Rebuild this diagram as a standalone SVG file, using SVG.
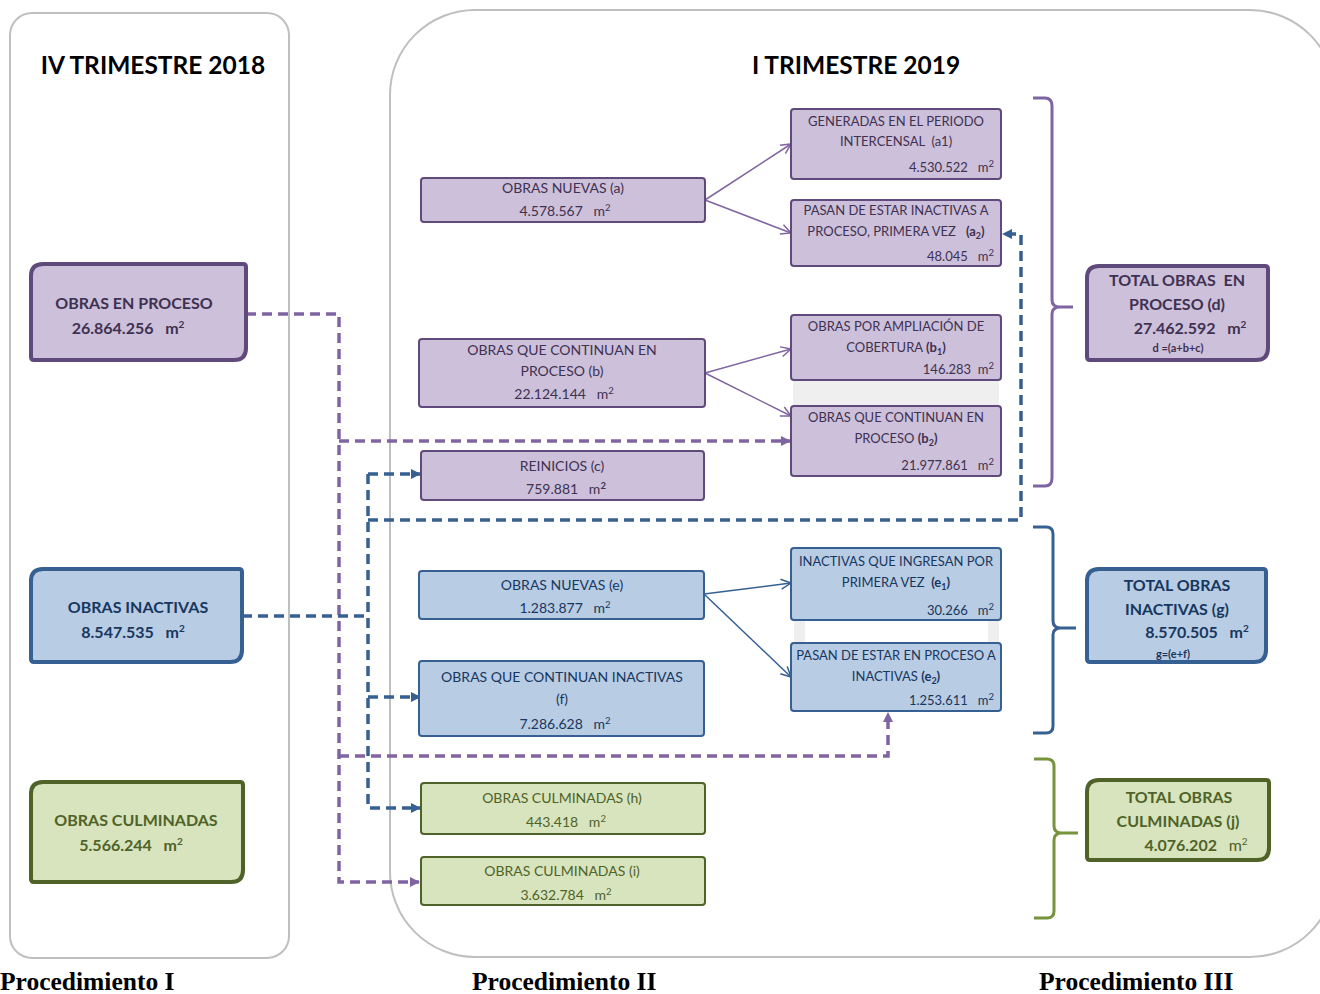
<svg xmlns="http://www.w3.org/2000/svg" width="1320" height="994" viewBox="0 0 1320 994">
<defs>
<style>
text{font-family:Lato,"Open Sans","Liberation Sans",sans-serif}
.ttl{font-size:24.5px;font-weight:bold;fill:#000}
.proc{font-family:"Liberation Serif","DejaVu Serif",serif;font-size:25.5px;font-weight:bold;fill:#000}
.big{font-size:16px;font-weight:bold}
.sm{font-size:13px}
.md{font-size:14px}
.tiny{font-size:11px;font-weight:bold}
.pu{fill:#3f3151}.bl{fill:#17375e}.gr{fill:#4f6228}
.pbox{fill:#ccc0da;stroke:#604a7b;stroke-width:2}
.bbox{fill:#b8cce4;stroke:#366092;stroke-width:2}
.gbox{fill:#d7e4bd;stroke:#4f6228;stroke-width:2}
.pbig{fill:#ccc0da;stroke:#604a7b;stroke-width:4}
.bbig{fill:#b8cce4;stroke:#366092;stroke-width:4}
.gbig{fill:#d7e4bd;stroke:#4f6228;stroke-width:4}
.panel{fill:none;stroke:#bfbfbf;stroke-width:2}
.sp{fill:none;stroke:#8064a2;stroke-width:1.5}
.sb{fill:none;stroke:#366092;stroke-width:1.5}
.dp{fill:none;stroke:#8064a2;stroke-width:3.5;stroke-dasharray:10,6}
.db{fill:none;stroke:#366092;stroke-width:3.5;stroke-dasharray:10,6}
.brace{fill:none;stroke-width:3}
</style>
<marker id="op" viewBox="0 0 12 12" refX="11" refY="6" markerWidth="12" markerHeight="12" markerUnits="userSpaceOnUse" orient="auto"><path d="M1,1 L11,6 L1,11" fill="none" stroke="#8064a2" stroke-width="1.5"/></marker>
<marker id="ob" viewBox="0 0 12 12" refX="11" refY="6" markerWidth="12" markerHeight="12" markerUnits="userSpaceOnUse" orient="auto"><path d="M1,1 L11,6 L1,11" fill="none" stroke="#366092" stroke-width="1.5"/></marker>
<marker id="fp" viewBox="0 0 10 10" refX="9" refY="5" markerWidth="10" markerHeight="10" markerUnits="userSpaceOnUse" orient="auto"><path d="M0,0 L10,5 L0,10 Z" fill="#8064a2"/></marker>
<marker id="fb" viewBox="0 0 10 10" refX="9" refY="5" markerWidth="10" markerHeight="10" markerUnits="userSpaceOnUse" orient="auto"><path d="M0,0 L10,5 L0,10 Z" fill="#366092"/></marker>
</defs>
<rect width="1320" height="994" fill="#fff"/>

<g id="panels">
<rect class="panel" x="10" y="13" width="279" height="945" rx="22"/>
<rect class="panel" x="390" y="10" width="945" height="947" rx="85"/>
<text class="ttl" x="153" y="74" text-anchor="middle">IV TRIMESTRE 2018</text>
<text class="ttl" x="856" y="74" text-anchor="middle">I TRIMESTRE 2019</text>
<text class="proc" x="0" y="990">Procedimiento I</text>
<text class="proc" x="472" y="990">Procedimiento II</text>
<text class="proc" x="1039" y="990">Procedimiento III</text>
</g>

<g id="fillers">
<rect x="793" y="380" width="206" height="26" fill="#efefef"/>
<rect x="794" y="620" width="11" height="23" fill="#efefef"/>
<rect x="988" y="620" width="11" height="23" fill="#efefef"/>
</g>

<g id="connectors">
<path class="sp" d="M705,200 L791,144" marker-end="url(#op)"/>
<path class="sp" d="M705,200 L791,233" marker-end="url(#op)"/>
<path class="sp" d="M705,373 L791,349" marker-end="url(#op)"/>
<path class="sp" d="M705,373 L791,416" marker-end="url(#op)"/>
<path class="sb" d="M704,594 L791,583" marker-end="url(#ob)"/>
<path class="sb" d="M704,594 L791,677" marker-end="url(#ob)"/>
<path class="dp" d="M246,314 H339 V882 H419" marker-end="url(#fp)"/>
<path class="dp" d="M339,441 H790" marker-end="url(#fp)"/>
<path class="dp" d="M339,756 H888 V713" marker-end="url(#fp)"/>
<path class="db" d="M242,616 H368"/>
<path class="db" d="M368,474 V808 H420" marker-end="url(#fb)"/>
<path class="db" d="M368,474 H420" marker-end="url(#fb)"/>
<path class="db" d="M368,697 H420" marker-end="url(#fb)"/>
<path class="db" d="M368,520 H1021 V234 H1003" marker-end="url(#fb)"/>
</g>

<g id="braces">
<path class="brace" stroke="#8064a2" d="M1033,98 H1045 Q1052,98 1052,106 V300 Q1052,307 1060,307 H1073 M1060,307 Q1052,307 1052,314 V478 Q1052,486 1045,486 H1033"/>
<path class="brace" stroke="#366092" d="M1033,527 H1046 Q1053,527 1053,534 V621 Q1053,628 1061,628 H1076 M1061,628 Q1053,628 1053,635 V726 Q1053,733 1046,733 H1033"/>
<path class="brace" stroke="#77933c" d="M1034,759 H1047 Q1054,759 1054,766 V826 Q1054,833 1062,833 H1078 M1062,833 Q1054,833 1054,840 V911 Q1054,918 1047,918 H1034"/>
</g>

<g id="n-proceso">
<path class="pbig" d="M43,264 H243 Q246,264 246,267 V348 Q246,360 234,360 H34 Q31,360 31,357 V276 Q31,264 43,264 Z"/>
<text class="big pu" x="134" y="309" text-anchor="middle">OBRAS EN PROCESO</text>
<text class="big pu" x="128" y="334" text-anchor="middle">26.864.256&#160;&#160; m<tspan dy="-6" font-size="10">2</tspan></text>
</g>
<g id="n-inactivas">
<path class="bbig" d="M43,569 H239 Q242,569 242,572 V650 Q242,662 230,662 H34 Q31,662 31,659 V581 Q31,569 43,569 Z"/>
<text class="big bl" x="138" y="613" text-anchor="middle">OBRAS INACTIVAS</text>
<text class="big bl" x="133" y="638" text-anchor="middle">8.547.535&#160;&#160; m<tspan dy="-6" font-size="10">2</tspan></text>
</g>
<g id="n-culminadas">
<path class="gbig" d="M43,782 H240 Q243,782 243,785 V870 Q243,882 231,882 H34 Q31,882 31,879 V794 Q31,782 43,782 Z"/>
<text class="big gr" x="136" y="826" text-anchor="middle">OBRAS CULMINADAS</text>
<text class="big gr" x="131" y="851" text-anchor="middle">5.566.244&#160;&#160; m<tspan dy="-6" font-size="10">2</tspan></text>
</g>

<g id="n-a">
<rect class="pbox" x="421" y="178" width="284" height="44" rx="3"/>
<text class="md pu" x="563" y="193" text-anchor="middle">OBRAS NUEVAS (a)</text>
<text class="md pu" x="565" y="216" text-anchor="middle">4.578.567&#160;&#160; m<tspan dy="-5" font-size="9.5">2</tspan></text>
</g>
<g id="n-a1">
<rect class="pbox" x="791" y="109" width="210" height="70" rx="3"/>
<text class="sm pu" x="896" y="126" text-anchor="middle">GENERADAS EN EL PERIODO</text>
<text class="sm pu" x="896" y="146" text-anchor="middle">INTERCENSAL&#160; (a1)</text>
<text class="sm pu" x="994" y="172" text-anchor="end" font-size="14">4.530.522&#160;&#160; m<tspan dy="-5" font-size="9.5">2</tspan></text>
</g>
<g id="n-a2">
<rect class="pbox" x="791" y="200" width="210" height="66" rx="3"/>
<text class="sm pu" x="896" y="215" text-anchor="middle" font-size="12.5">PASAN DE ESTAR INACTIVAS A</text>
<text class="sm pu" x="896" y="236" text-anchor="middle" font-size="12.5">PROCESO, PRIMERA VEZ&#160;&#160; <tspan font-weight="bold">(a<tspan dy="3" font-size="9">2</tspan><tspan dy="-3">)</tspan></tspan></text>
<text class="sm pu" x="994" y="261" text-anchor="end" font-size="14">48.045&#160;&#160; m<tspan dy="-5" font-size="9.5">2</tspan></text>
</g>
<g id="n-b">
<rect class="pbox" x="419" y="339" width="286" height="68" rx="3"/>
<text class="md pu" x="562" y="355" text-anchor="middle">OBRAS QUE CONTINUAN EN</text>
<text class="md pu" x="562" y="376" text-anchor="middle">PROCESO (b)</text>
<text class="md pu" x="564" y="399" text-anchor="middle">22.124.144&#160;&#160; m<tspan dy="-5" font-size="9.5">2</tspan></text>
</g>
<g id="n-b1">
<rect class="pbox" x="791" y="315" width="210" height="65" rx="3"/>
<text class="sm pu" x="896" y="331" text-anchor="middle" font-size="12.5">OBRAS POR AMPLIACIÓN DE</text>
<text class="sm pu" x="896" y="352" text-anchor="middle" font-size="12.5">COBERTURA <tspan font-weight="bold">(b<tspan dy="3" font-size="9">1</tspan><tspan dy="-3">)</tspan></tspan></text>
<text class="sm pu" x="994" y="374" text-anchor="end" font-size="14">146.283&#160; m<tspan dy="-5" font-size="9.5">2</tspan></text>
</g>
<g id="n-b2">
<rect class="pbox" x="791" y="406" width="210" height="70" rx="3"/>
<text class="sm pu" x="896" y="422" text-anchor="middle" font-size="12.5">OBRAS QUE CONTINUAN EN</text>
<text class="sm pu" x="896" y="443" text-anchor="middle" font-size="12.5">PROCESO <tspan font-weight="bold">(b<tspan dy="3" font-size="9">2</tspan><tspan dy="-3">)</tspan></tspan></text>
<text class="sm pu" x="994" y="470" text-anchor="end" font-size="14">21.977.861&#160;&#160; m<tspan dy="-5" font-size="9.5">2</tspan></text>
</g>
<g id="n-c">
<rect class="pbox" x="421" y="451" width="283" height="49" rx="3"/>
<text class="md pu" x="562" y="471" text-anchor="middle">REINICIOS (c)</text>
<text class="md pu" x="566" y="494" text-anchor="middle">759.881&#160;&#160; m<tspan dy="-5" font-size="9.5" font-weight="bold">2</tspan></text>
</g>

<g id="n-e">
<rect class="bbox" x="419" y="571" width="285" height="48" rx="3"/>
<text class="md bl" x="562" y="590" text-anchor="middle">OBRAS NUEVAS (e)</text>
<text class="md bl" x="565" y="613" text-anchor="middle">1.283.877&#160;&#160; m<tspan dy="-5" font-size="9.5">2</tspan></text>
</g>
<g id="n-e1">
<rect class="bbox" x="791" y="548" width="210" height="72" rx="3"/>
<text class="sm bl" x="896" y="566" text-anchor="middle" font-size="12.5">INACTIVAS QUE INGRESAN POR</text>
<text class="sm bl" x="896" y="587" text-anchor="middle" font-size="12.5">PRIMERA VEZ&#160; <tspan font-weight="bold">(e<tspan dy="3" font-size="9">1</tspan><tspan dy="-3">)</tspan></tspan></text>
<text class="sm bl" x="994" y="615" text-anchor="end" font-size="14">30.266&#160;&#160; m<tspan dy="-5" font-size="9.5">2</tspan></text>
</g>
<g id="n-f">
<rect class="bbox" x="419" y="661" width="285" height="75" rx="3"/>
<text class="md bl" x="562" y="682" text-anchor="middle">OBRAS QUE CONTINUAN INACTIVAS</text>
<text class="md bl" x="562" y="704" text-anchor="middle">(f)</text>
<text class="md bl" x="565" y="729" text-anchor="middle">7.286.628&#160;&#160; m<tspan dy="-5" font-size="9.5">2</tspan></text>
</g>
<g id="n-e2">
<rect class="bbox" x="791" y="643" width="210" height="68" rx="3"/>
<text class="sm bl" x="896" y="660" text-anchor="middle" font-size="12.5">PASAN DE ESTAR EN PROCESO A</text>
<text class="sm bl" x="896" y="681" text-anchor="middle" font-size="12.5">INACTIVAS <tspan font-weight="bold">(e<tspan dy="3" font-size="9">2</tspan><tspan dy="-3">)</tspan></tspan></text>
<text class="sm bl" x="994" y="705" text-anchor="end" font-size="14">1.253.611&#160;&#160; m<tspan dy="-5" font-size="9.5">2</tspan></text>
</g>

<g id="n-h">
<rect class="gbox" x="421" y="783" width="284" height="51" rx="3"/>
<text class="md gr" x="562" y="803" text-anchor="middle">OBRAS CULMINADAS (h)</text>
<text class="md gr" x="566" y="827" text-anchor="middle">443.418&#160;&#160; m<tspan dy="-5" font-size="9.5">2</tspan></text>
</g>
<g id="n-i">
<rect class="gbox" x="421" y="857" width="284" height="48" rx="3"/>
<text class="md gr" x="562" y="876" text-anchor="middle">OBRAS CULMINADAS (i)</text>
<text class="md gr" x="566" y="900" text-anchor="middle">3.632.784&#160;&#160; m<tspan dy="-5" font-size="9.5">2</tspan></text>
</g>

<g id="n-total-d">
<path class="pbig" d="M1099,266 H1265 Q1268,266 1268,269 V348 Q1268,360 1256,360 H1090 Q1087,360 1087,357 V278 Q1087,266 1099,266 Z"/>
<text class="big pu" x="1177" y="286" text-anchor="middle">TOTAL OBRAS&#160; EN</text>
<text class="big pu" x="1177" y="310" text-anchor="middle">PROCESO (d)</text>
<text class="big pu" x="1190" y="334" text-anchor="middle">27.462.592&#160;&#160; m<tspan dy="-6" font-size="10">2</tspan></text>
<text class="tiny pu" x="1178" y="352" text-anchor="middle">d =(a+b+c)</text>
</g>
<g id="n-total-g">
<path class="bbig" d="M1099,569 H1263 Q1266,569 1266,572 V650 Q1266,662 1254,662 H1090 Q1087,662 1087,659 V581 Q1087,569 1099,569 Z"/>
<text class="big bl" x="1177" y="591" text-anchor="middle">TOTAL OBRAS</text>
<text class="big bl" x="1177" y="615" text-anchor="middle">INACTIVAS (g)</text>
<text class="big bl" x="1197" y="638" text-anchor="middle">8.570.505&#160;&#160; m<tspan dy="-6" font-size="10">2</tspan></text>
<text class="tiny bl" x="1173" y="658" text-anchor="middle">g=(e+f)</text>
</g>
<g id="n-total-j">
<path class="gbig" d="M1099,780 H1266 Q1269,780 1269,783 V848 Q1269,860 1257,860 H1090 Q1087,860 1087,857 V792 Q1087,780 1099,780 Z"/>
<text class="big gr" x="1179" y="803" text-anchor="middle">TOTAL OBRAS</text>
<text class="big gr" x="1178" y="827" text-anchor="middle">CULMINADAS (j)</text>
<text class="big gr" x="1196" y="851" text-anchor="middle">4.076.202&#160;&#160; <tspan font-weight="normal">m<tspan dy="-6" font-size="10">2</tspan></tspan></text>
</g>
</svg>
